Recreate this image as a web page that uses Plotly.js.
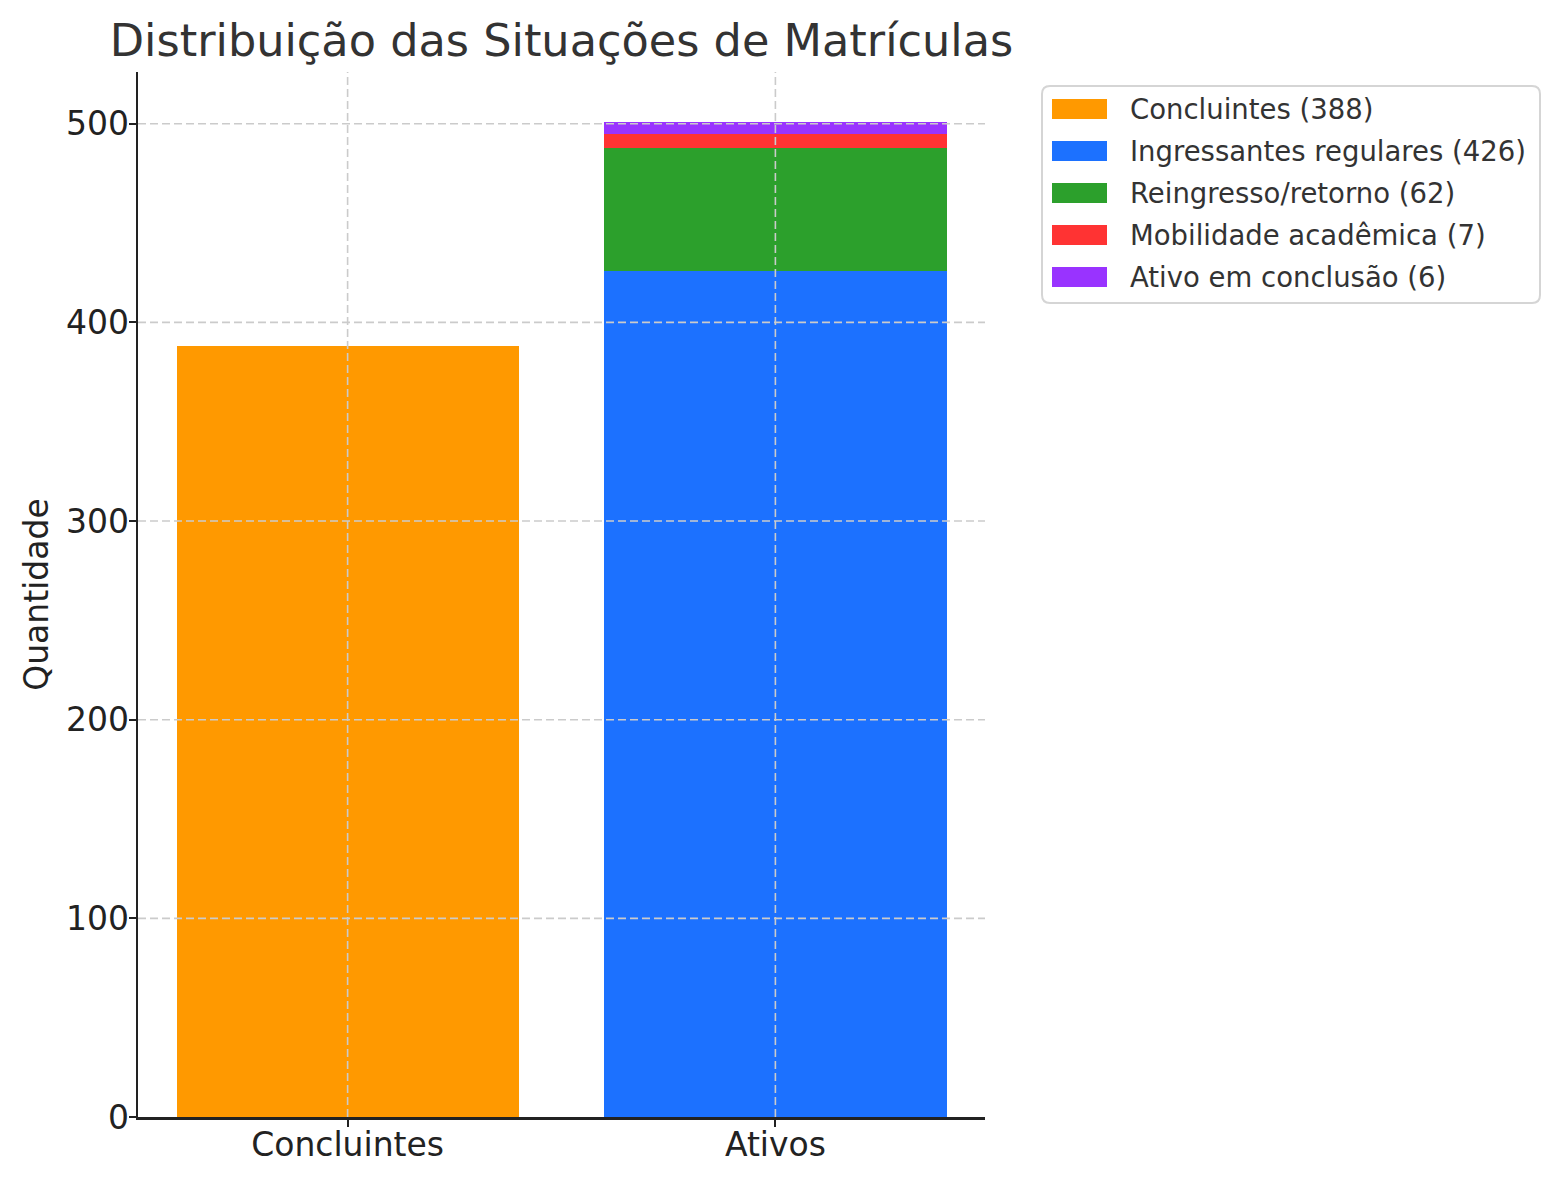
<!DOCTYPE html>
<html>
<head>
<meta charset="utf-8">
<script src="https://cdn.plot.ly/plotly-3.0.1.min.js"></script>
<style>
  body { margin: 0; background: #fff; }
  #chart { width: 1560px; height: 1180px; }
</style>
</head>
<body>
<div id="chart"></div>
<script>
// dados
var categorias = ['Concluintes', 'Ativos'];
var situacoes = ['Concluintes', 'Ingressantes regulares', 'Reingresso/retorno', 'Mobilidade acadêmica', 'Ativo em conclusão'];
var quantidades = [388, 426, 62, 7, 6];
var grupos = ['Concluintes', 'Ativos', 'Ativos', 'Ativos', 'Ativos'];
var yTicks = [0, 100, 200, 300, 400, 500];

var cores = ['#ff9900', '#1c71ff', '#2ca02c', '#ff3333', '#9933ff'];
var fonte = 'DejaVu Sans, sans-serif';

// plot area in pixels
var L = 138, R = 985, T = 72, B = 1117;
function px2x(p) { return (p - L) / (R - L); }
function px2y(p) { return (B - p) / (B - T); }

var data = [];
for (var i = 0; i < situacoes.length; i++) {
    data.push({
        type: 'bar',
        name: situacoes[i] + ' (' + quantidades[i] + ')',
        x: [grupos[i]],
        y: [quantidades[i]],
        width: 0.8,
        marker: { color: cores[i], line: { width: 0 } },
        showlegend: false
    });
}

var total = 0;
for (var i = 0; i < quantidades.length; i++) {
    if (grupos[i] === 'Ativos') total += quantidades[i];
}
var ymax = Math.max(total, quantidades[0]) * 1.05;

var grid = { color: '#cbcbcb', width: 1.6, dash: '8px,4px' };
var shapes = [];
var annotations = [];

// grid on top of bars, as in the source
for (var i = 0; i < categorias.length; i++) {
    shapes.push({ type: 'line', xref: 'x', yref: 'paper', x0: i, x1: i, y0: 0, y1: 1, layer: 'above', line: grid });
}
for (var i = 1; i < yTicks.length; i++) {
    shapes.push({ type: 'line', xref: 'paper', yref: 'y', x0: 0, x1: 1, y0: yTicks[i], y1: yTicks[i], layer: 'above', line: grid });
}

// legend box (matplotlib look)
var bx0 = px2x(1042), bx1 = px2x(1540), by0 = px2y(303), by1 = px2y(86);
var rx = 8 / (R - L), ry = 8 / (B - T);
shapes.push({
    type: 'path', xref: 'paper', yref: 'paper', layer: 'above',
    path: 'M' + (bx0 + rx) + ',' + by1 +
          ' L' + (bx1 - rx) + ',' + by1 + ' Q' + bx1 + ',' + by1 + ' ' + bx1 + ',' + (by1 - ry) +
          ' L' + bx1 + ',' + (by0 + ry) + ' Q' + bx1 + ',' + by0 + ' ' + (bx1 - rx) + ',' + by0 +
          ' L' + (bx0 + rx) + ',' + by0 + ' Q' + bx0 + ',' + by0 + ' ' + bx0 + ',' + (by0 + ry) +
          ' L' + bx0 + ',' + (by1 - ry) + ' Q' + bx0 + ',' + by1 + ' ' + (bx0 + rx) + ',' + by1 + ' Z',
    fillcolor: 'rgba(255,255,255,0.8)',
    line: { color: '#d5d5d5', width: 2 }
});
for (var i = 0; i < situacoes.length; i++) {
    var cy = 109 + i * 42;
    shapes.push({
        type: 'rect', xref: 'paper', yref: 'paper', layer: 'above',
        x0: px2x(1052), x1: px2x(1107), y0: px2y(cy + 10), y1: px2y(cy - 10),
        fillcolor: cores[i], line: { width: 0 }
    });
    annotations.push({
        xref: 'paper', yref: 'paper', x: px2x(1128), y: px2y(cy),
        xanchor: 'left', yanchor: 'middle', showarrow: false,
        text: situacoes[i] + ' (' + quantidades[i] + ')',
        font: { family: fonte, size: 27.5, color: '#333333' }
    });
}

var layout = {
    width: 1560,
    height: 1180,
    margin: { l: L, r: 1560 - R, t: T, b: 1180 - B },
    paper_bgcolor: '#ffffff',
    plot_bgcolor: '#ffffff',
    barmode: 'stack',
    showlegend: false,
    font: { family: fonte, color: '#222222' },
    title: {
        text: 'Distribuição das Situações de Matrículas',
        font: { family: fonte, size: 44.6, color: '#333333' },
        xref: 'paper', x: 0.5, xanchor: 'center',
        yref: 'container', y: 1 - 40 / 1180, yanchor: 'middle'
    },
    xaxis: {
        type: 'category',
        categoryorder: 'array',
        categoryarray: categorias,
        range: [-0.49, 1.49],
        showgrid: false,
        zeroline: false,
        showline: true,
        linecolor: '#222222',
        linewidth: 2.5,
        ticks: 'outside',
        ticklen: 7,
        tickwidth: 2,
        tickcolor: '#222222',
        ticklabelstandoff: -10,
        tickfont: { family: fonte, size: 33, color: '#222222' },
        layer: 'above traces'
    },
    yaxis: {
        range: [0, ymax],
        tickvals: yTicks,
        ticktext: yTicks.map(String),
        showgrid: false,
        zeroline: false,
        showline: true,
        linecolor: '#222222',
        linewidth: 2.5,
        ticks: 'outside',
        ticklen: 7,
        tickwidth: 2,
        tickcolor: '#222222',
        ticklabelstandoff: -7,
        tickfont: { family: fonte, size: 33, color: '#222222' },
        title: { text: 'Quantidade', font: { family: fonte, size: 33, color: '#222222' }, standoff: 8 },
        layer: 'above traces'
    },
    shapes: shapes,
    annotations: annotations
};

Plotly.newPlot('chart', data, layout, { displayModeBar: false, staticPlot: true });
</script>
</body>
</html>
